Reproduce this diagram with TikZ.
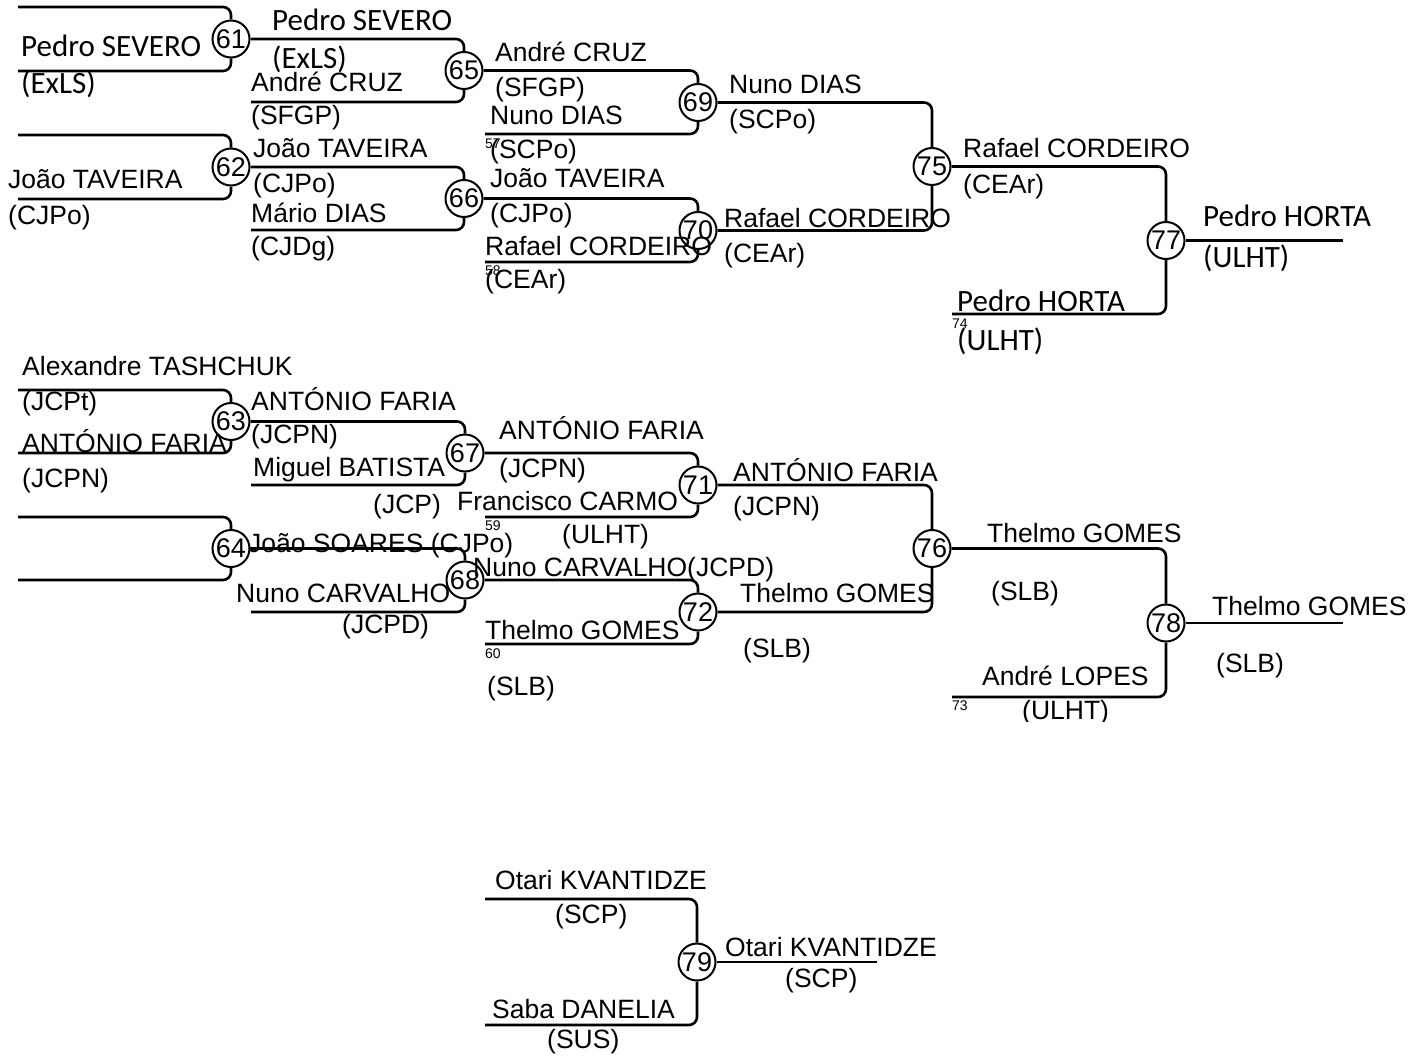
\documentclass[tikz,border=0pt]{standalone}
\usepackage{fontspec}
\setmainfont{Liberation Sans}
\newfontfamily\calib{Carlito}
\begin{document}
\begin{tikzpicture}[x=1pt,y=-1pt,
  br/.style={line width=2.6pt, rounded corners=8pt},
  mc/.style={circle, draw, line width=2pt, minimum size=37pt, inner sep=0pt, font=\fontsize{27}{27}\selectfont},
  nm/.style={anchor=base west, inner sep=0pt, font=\fontsize{26.5}{30}\selectfont},
  cb/.style={anchor=base west, inner sep=0pt, font=\calib\fontsize{31}{34}\selectfont},
  sm/.style={anchor=base west, inner sep=0pt, font=\fontsize{14}{16}\selectfont}]
\useasboundingbox (0,0) rectangle (1421,1057);

% ---------- match circles ----------
\node[mc] (m61) at (231,39) {61};
\node[mc] (m62) at (231,167) {62};
\node[mc] (m63) at (231,421.5) {63};
\node[mc] (m64) at (231,548.5) {64};
\node[mc] (m65) at (464,70.5) {65};
\node[mc] (m66) at (464,198.5) {66};
\node[mc] (m67) at (465,453) {67};
\node[mc] (m68) at (465,580) {68};
\node[mc] (m69) at (698,102.5) {69};
\node[mc] (m70) at (698,230.5) {70};
\node[mc] (m71) at (698,485) {71};
\node[mc] (m72) at (698,612) {72};
\node[mc] (m75) at (932,166.5) {75};
\node[mc] (m76) at (932,548.5) {76};
\node[mc] (m77) at (1166,240.5) {77};
\node[mc] (m78) at (1166,623) {78};
\node[mc] (m79) at (697,962) {79};

% ---------- free feeder ends ----------
\coordinate (a61) at (18,7);    \coordinate (b61) at (18,71);
\coordinate (a62) at (18,135);  \coordinate (b62) at (18,199);
\coordinate (a63) at (18,390);  \coordinate (b63) at (18,453);
\coordinate (a64) at (18,517);  \coordinate (b64) at (18,580);
\coordinate (b65) at (251,102); \coordinate (b66) at (251,230);
\coordinate (b67) at (251,485); \coordinate (b68) at (251,612);
\coordinate (b69) at (485,134); \coordinate (b70) at (485,262);
\coordinate (b71) at (485,517); \coordinate (b72) at (485,644);
\coordinate (b77) at (952,314); \coordinate (b78) at (952,697);
\coordinate (a79) at (485,899); \coordinate (b79) at (485,1025);
\coordinate (e77) at (1343,240.5);
\coordinate (e78) at (1343,623);
\coordinate (e79) at (877,962);

% ---------- bracket lines ----------
\foreach \m in {61,62,63,64}{
  \draw[br] (a\m) -| (m\m.north);
  \draw[br] (b\m) -| (m\m.south);
}
\draw[br] (m61.east) -| (m65.north); \draw[br] (b65) -| (m65.south);
\draw[br] (m62.east) -| (m66.north); \draw[br] (b66) -| (m66.south);
\draw[br] (m63.east) -| (m67.north); \draw[br] (b67) -| (m67.south);
\draw[br] (m64.east) -| (m68.north); \draw[br] (b68) -| (m68.south);
\draw[br] (m65.east) -| (m69.north); \draw[br] (b69) -| (m69.south);
\draw[br] (m66.east) -| (m70.north); \draw[br] (b70) -| (m70.south);
\draw[br] (m67.east) -| (m71.north); \draw[br] (b71) -| (m71.south);
\draw[br] (m68.east) -| (m72.north); \draw[br] (b72) -| (m72.south);
\draw[br] (m69.east) -| (m75.north); \draw[br] (m70.east) -| (m75.south);
\draw[br] (m71.east) -| (m76.north); \draw[br] (m72.east) -| (m76.south);
\draw[br] (m75.east) -| (m77.north); \draw[br] (b77) -| (m77.south);
\draw[br] (m76.east) -| (m78.north); \draw[br] (b78) -| (m78.south);
\draw[br] (m77.east) -- (e77);
\draw[br] (m78.east) -- (e78);
\draw[br] (a79) -| (m79.north); \draw[br] (b79) -| (m79.south);
\draw[br] (m79.east) -- (e79);

% ---------- texts: upper half ----------
\node[cb] (t01) at (21,57) {Pedro SEVERO};
\node[cb] (t02) at (21,93) {(ExLS)};
\node[nm] (t03) at (8,188) {João TAVEIRA};
\node[nm] (t04) at (8,224) {(CJPo)};
\node[cb] (t05) at (272,31) {Pedro SEVERO};
\node[cb] (t06) at (272,68) {(ExLS)};
\node[nm] (t07) at (251,92) {André CRUZ};
\node[nm] (t08) at (251,124) {(SFGP)};
\node[nm] (t09) at (253,157) {João TAVEIRA};
\node[nm] (t10) at (253,192) {(CJPo)};
\node[nm] (t11) at (251,222) {Mário DIAS};
\node[nm] (t12) at (251,255) {(CJDg)};
\node[nm] (t13) at (495,62) {André CRUZ};
\node[nm] (t14) at (495,96) {(SFGP)};
\node[nm] (t15) at (490,124) {Nuno DIAS};
\node[sm] (t16) at (485,148) {57};
\node[nm] (t17) at (490,158) {(SCPo)};
\node[nm] (t18) at (490,187) {João TAVEIRA};
\node[nm] (t19) at (490,222) {(CJPo)};
\node[nm] (t20) at (485,255) {Rafael CORDEIRO};
\node[sm] (t21) at (485,275) {58};
\node[nm] (t22) at (485,288) {(CEAr)};
\node[nm] (t23) at (729,93) {Nuno DIAS};
\node[nm] (t24) at (729,128) {(SCPo)};
\node[nm] (t25) at (724,227) {Rafael CORDEIRO};
\node[nm] (t26) at (724,262) {(CEAr)};
\node[nm] (t27) at (963,157) {Rafael CORDEIRO};
\node[nm] (t28) at (963,193) {(CEAr)};
\node[cb] (t29) at (1203,226) {Pedro HORTA};
\node[cb] (t30) at (1203,267) {(ULHT)};
\node[cb] (t31) at (957,311) {Pedro HORTA};
\node[sm] (t32) at (952,328) {74};
\node[cb] (t33) at (957,350) {(ULHT)};

% ---------- texts: lower half ----------
\node[nm] (t34) at (22,375) {Alexandre TASHCHUK};
\node[nm] (t35) at (22,410) {(JCPt)};
\node[nm] (t36) at (22,452) {ANTÓNIO FARIA};
\node[nm] (t37) at (22,487) {(JCPN)};
\node[nm] (t38) at (251,410) {ANTÓNIO FARIA};
\node[nm] (t39) at (251,443) {(JCPN)};
\node[nm] (t40) at (253,476) {Miguel BATISTA};
\node[nm] (t41) at (373,513) {(JCP)};
\node[nm] (t42) at (248,552) {João SOARES (CJPo)};
\node[nm] (t43) at (236,602) {Nuno CARVALHO};
\node[nm] (t44) at (342,633) {(JCPD)};
\node[nm] (t45) at (499,439) {ANTÓNIO FARIA};
\node[nm] (t46) at (499,477) {(JCPN)};
\node[nm] (t47) at (457,510) {Francisco CARMO};
\node[sm] (t48) at (485,530) {59};
\node[nm] (t49) at (562,543) {(ULHT)};
\node[nm] (t50) at (473,576) {Nuno CARVALHO(JCPD)};
\node[nm] (t51) at (485,639) {Thelmo GOMES};
\node[sm] (t52) at (485,658) {60};
\node[nm] (t53) at (487,695) {(SLB)};
\node[nm] (t54) at (733,481) {ANTÓNIO FARIA};
\node[nm] (t55) at (733,515) {(JCPN)};
\node[nm] (t56) at (740,602) {Thelmo GOMES};
\node[nm] (t57) at (743,657) {(SLB)};
\node[nm] (t58) at (987,542) {Thelmo GOMES};
\node[nm] (t59) at (991,600) {(SLB)};
\node[nm] (t60) at (1212,615) {Thelmo GOMES};
\node[nm] (t61) at (1216,672) {(SLB)};
\node[nm] (t62) at (982,685) {André LOPES};
\node[sm] (t63) at (952,710) {73};
\begin{scope}
  \clip (1000,690) rectangle (1130,721);
  \node[nm] (t64) at (1022,719) {(ULHT)};
\end{scope}

% ---------- final ----------
\node[nm] (t65) at (495,889) {Otari KVANTIDZE};
\node[nm] (t66) at (555,923) {(SCP)};
\node[nm] (t67) at (492,1018) {Saba DANELIA};
\node[nm] (t68) at (547,1048) {(SUS)};
\node[nm] (t69) at (725,956) {Otari KVANTIDZE};
\node[nm] (t70) at (785,987) {(SCP)};
\end{tikzpicture}
\end{document}
